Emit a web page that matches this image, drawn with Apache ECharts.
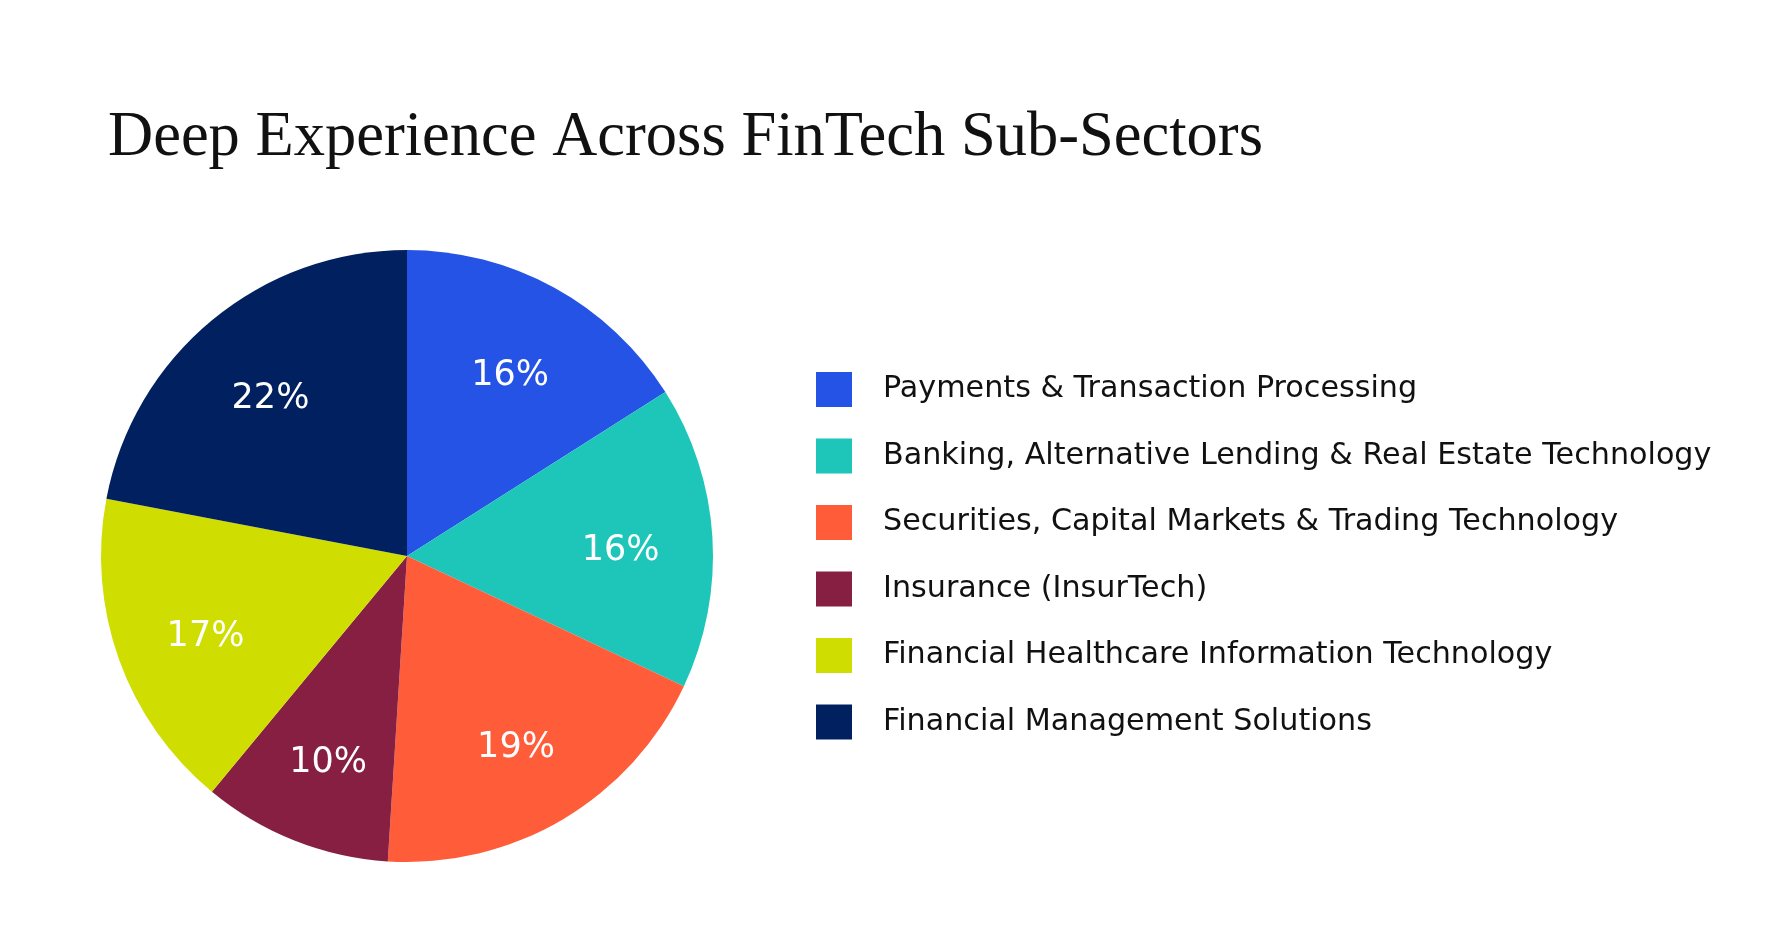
<!DOCTYPE html>
<html lang="en" style="height: 100%">
<head>
  <meta charset="utf-8">
</head>
<body style="height: 100%; margin: 0; background: #fff">
  <div id="container" style="height: 100%"></div>

  <script type="text/javascript" src="https://cdn.jsdelivr.net/npm/echarts@6/dist/echarts.min.js"></script>

  <script type="text/javascript">
    var dom = document.getElementById('container');
    var myChart = echarts.init(dom, null, { renderer: 'canvas' });

    const sectors = [
      'Payments & Transaction Processing',
      'Banking, Alternative Lending & Real Estate Technology',
      'Securities, Capital Markets & Trading Technology',
      'Insurance (InsurTech)',
      'Financial Healthcare Information Technology',
      'Financial Management Solutions'
    ];
    const shares = [16, 16, 19, 10, 17, 22];
    const colors = ['#2453e6', '#1dc6b9', '#ff5c39', '#861f41', '#cfde00', '#012060'];

    const pieData = sectors.map(function (name, i) {
      return { name: name, value: shares[i], itemStyle: { color: colors[i] } };
    });

    const center = [407, 556];
    const R = 306;

    var option = {
      backgroundColor: '#fff',
      animation: false,
      title: {
        text: 'Deep Experience Across FinTech Sub-Sectors',
        left: 103,
        top: 102,
        textStyle: {
          fontFamily: 'Liberation Serif',
          fontWeight: 'normal',
          fontSize: 62.5,
          color: '#111'
        }
      },
      legend: {
        orient: 'vertical',
        left: 811,
        top: 367,
        icon: 'rect',
        itemWidth: 36,
        itemHeight: 35,
        itemGap: 31.5,
        selectedMode: false,
        data: sectors,
        textStyle: {
          fontFamily: 'DejaVu Sans',
          fontSize: 30.2,
          color: '#111',
          padding: [0, 0, 0, 26]
        }
      },
      series: [
        {
          type: 'pie',
          center: center,
          radius: [0, R],
          startAngle: 90,
          clockwise: true,
          silent: true,
          label: { show: false },
          labelLine: { show: false },
          data: pieData
        },
        {
          // transparent ring only used to place the percentage labels further out
          type: 'pie',
          center: center,
          radius: [R * 0.38, R],
          startAngle: 90,
          clockwise: true,
          silent: true,
          itemStyle: { color: 'rgba(0,0,0,0)' },
          label: {
            show: true,
            position: 'inside',
            formatter: '{c}%',
            color: '#fff',
            fontFamily: 'DejaVu Sans',
            fontSize: 35,
            offset: [0, 8]
          },
          labelLine: { show: false },
          data: sectors.map(function (name, i) {
            return { name: name, value: shares[i] };
          })
        }
      ]
    };

    myChart.setOption(option);
    window.addEventListener('resize', myChart.resize);
  </script>
</body>
</html>
